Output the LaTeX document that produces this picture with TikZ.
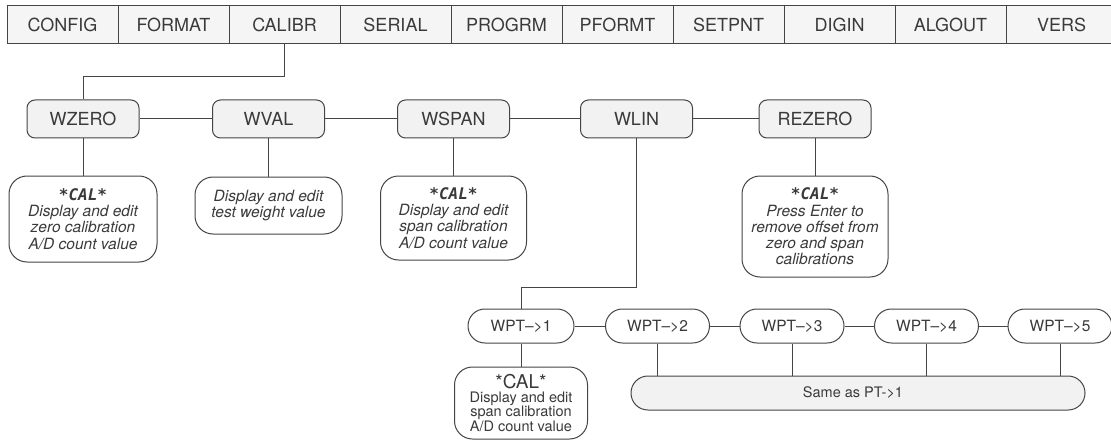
\documentclass[tikz,border=0pt]{standalone}
\usepackage{fontspec}
\setmainfont{TeX Gyre Heros}
\newfontfamily\lcdfont{DejaVu Sans Mono}
\definecolor{linec}{HTML}{454545}
\definecolor{txt}{HTML}{3A3A3A}
\definecolor{topfill}{HTML}{F5F5F5}
\definecolor{subfill}{HTML}{F2F2F2}
\begin{document}
\begin{tikzpicture}[x=1pt,y=-1pt,
  every node/.style={text=txt},
  conn/.style={draw=linec, line width=1pt},
  menu/.style={draw=linec, line width=1pt, fill=topfill, minimum width=111pt, minimum height=38pt, inner sep=0pt, font=\fontsize{18}{20}\selectfont},
  sub/.style={draw=linec, line width=1pt, fill=subfill, rounded corners=8pt, minimum width=112pt, minimum height=38pt, inner sep=0pt, font=\fontsize{18}{20}\selectfont},
  desc/.style={draw=linec, line width=1pt, fill=white, rounded corners=18pt, align=center, inner sep=0pt, font=\itshape\fontsize{15.5}{16.3}\selectfont},
  wpt/.style={draw=linec, line width=1pt, fill=white, rounded corners=16.9pt, minimum width=104pt, minimum height=34pt, inner sep=0pt, font=\fontsize{15.5}{18}\selectfont},
]
\useasboundingbox (0,0) rectangle (1111,441);
\clip (0,0) rectangle (1111,441);
\newcommand{\lcdcal}{{\lcdfont\bfseries\itshape\fontsize{16}{17}\selectfont *CAL*}}
% top menu
\foreach \t [count=\i from 0] in {CONFIG,FORMAT,CALIBR,SERIAL,PROGRM,PFORMT,SETPNT,DIGIN,ALGOUT,VERS}
  \node[menu] (m\i) at (62.5+111*\i,25) {\t};
% second row
\node[sub] (wzero)  at (83,119)    {WZERO};
\node[sub] (wval)   at (268.5,119) {WVAL};
\node[sub] (wspan)  at (453.5,119) {WSPAN};
\node[sub] (wlin)   at (636.5,119) {WLIN};
\node[sub] (rezero) at (815,119)   {REZERO};
% descriptions
\node[desc, minimum width=148pt, minimum height=86pt] (d1) at (83,219)
  {\lcdcal\\Display and edit\\zero calibration\\A/D count value};
\node[desc, minimum width=147pt, minimum height=57pt] (d2) at (268.5,205.5)
  {Display and edit\\test weight value};
\node[desc, minimum width=146pt, minimum height=84pt] (d3) at (453.5,218)
  {\lcdcal\\Display and edit\\span calibration\\A/D count value};
\node[desc, minimum width=146pt, minimum height=101pt] (d4) at (815,226.5)
  {\lcdcal\\Press Enter to\\remove offset from\\zero and span\\calibrations};
% bottom row
\node[wpt, minimum width=106pt] (w1) at (521,326) {WPT\textendash{}>1};
\node[wpt] (w2) at (657.5,326) {WPT\textendash{}>2};
\node[wpt] (w3) at (792,326)   {WPT\textendash{}>3};
\node[wpt] (w4) at (926.5,326) {WPT\textendash{}>4};
\node[wpt] (w5) at (1060,326)  {WPT\textendash{}>5};
\node[draw=linec, line width=1pt, fill=white, rounded corners=18pt, align=center, inner sep=0pt,
  minimum width=133pt, minimum height=72pt, font=\fontsize{14.5}{13.7}\selectfont] (d5) at (521,403)
  {{\fontsize{19}{19}\selectfont *CAL*}\\Display and edit\\span calibration\\A/D count value};
\node[draw=linec, line width=1pt, fill=subfill, rounded corners=16.9pt, inner sep=0pt,
  minimum width=454pt, minimum height=34pt, font=\fontsize{14.5}{17}\selectfont] (same) at (858,393)
  {\hspace*{-10pt}Same as PT->1};
% connectors
\coordinate (cj) at (83,77);
\draw[conn] (m2.south) |- (cj) -- (wzero.north);
\draw[conn] (wzero) -- (wval);
\draw[conn] (wval) -- (wspan);
\draw[conn] (wspan) -- (wlin);
\draw[conn] (wlin) -- (rezero);
\draw[conn] (wzero) -- (d1);
\draw[conn] (wval) -- (d2);
\draw[conn] (wspan) -- (d3);
\draw[conn] (rezero) -- (d4);
\coordinate (wj) at (521,287);
\draw[conn] (wlin.south) |- (wj) -- (w1.north);
\draw[conn] (w1) -- (w2);
\draw[conn] (w2) -- (w3);
\draw[conn] (w3) -- (w4);
\draw[conn] (w4) -- (w5);
\draw[conn] (w1) -- (d5);
\foreach \k in {2,3,4,5}
  \draw[conn] (w\k.south) -- (w\k.south |- same.north);
\end{tikzpicture}
\end{document}
